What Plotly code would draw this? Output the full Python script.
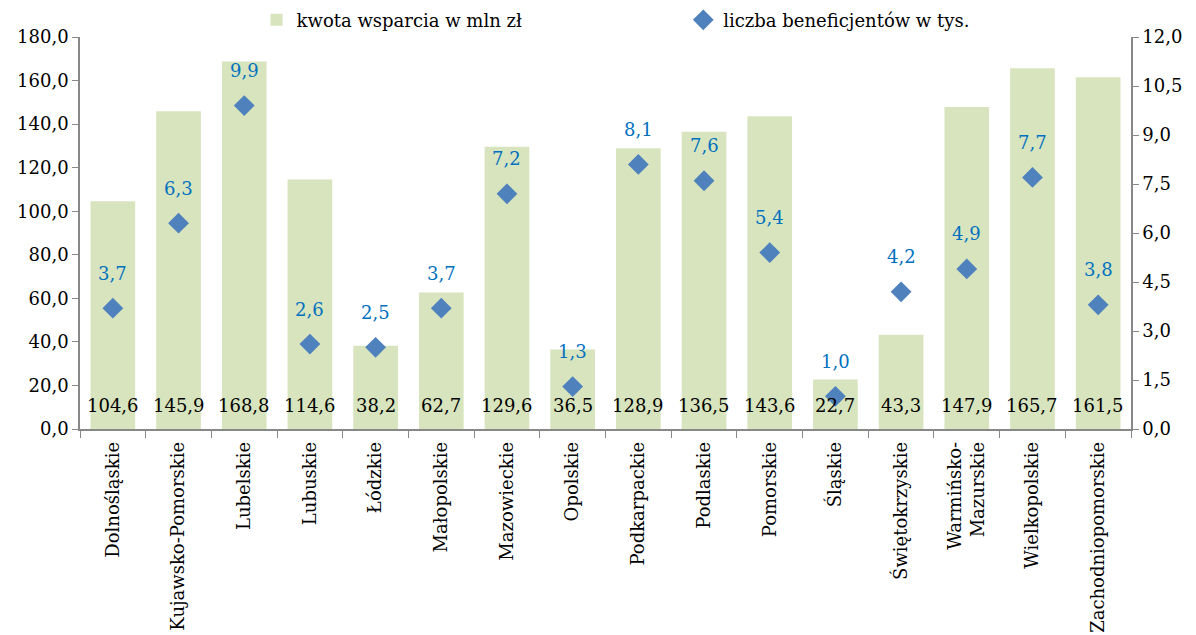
import plotly.graph_objects as go

categories = ["Dolnośląskie", "Kujawsko-Pomorskie", "Lubelskie", "Lubuskie", "Łódzkie",
              "Małopolskie", "Mazowieckie", "Opolskie", "Podkarpackie", "Podlaskie",
              "Pomorskie", "Śląskie", "Świętokrzyskie", "Warmińsko-<br>Mazurskie",
              "Wielkopolskie", "Zachodniopomorskie"]
kwota = [104.6, 145.9, 168.8, 114.6, 38.2, 62.7, 129.6, 36.5, 128.9, 136.5, 143.6, 22.7,
         43.3, 147.9, 165.7, 161.5]
beneficjenci = [3.7, 6.3, 9.9, 2.6, 2.5, 3.7, 7.2, 1.3, 8.1, 7.6, 5.4, 1.0, 4.2, 4.9, 7.7, 3.8]

FONT = "DejaVu Serif"
fmt = lambda v: f"{v:.1f}".replace(".", ",")

fig = go.Figure()
fig.add_trace(go.Bar(x=categories, y=kwota, name="kwota wsparcia w mln zł",
                     marker=dict(color="#D7E4BD", line=dict(width=0)), yaxis="y",
                     legend="legend"))
fig.add_trace(go.Scatter(x=categories, y=beneficjenci, name="liczba beneficjentów w tys.",
                         mode="markers", marker=dict(symbol="diamond", size=16, color="#4F81BD"),
                         yaxis="y2", cliponaxis=False, legend="legend2"))

for c, v in zip(categories, kwota):
    fig.add_annotation(x=c, y=0, yref="y", text=fmt(v), showarrow=False, yanchor="middle",
                       yshift=24, font=dict(family=FONT, size=18, color="black"))
for c, v in zip(categories, beneficjenci):
    fig.add_annotation(x=c, y=v, yref="y2", text=fmt(v), showarrow=False, yshift=35,
                       font=dict(family=FONT, size=18, color="#0070C0"))

axis_col = "#888888"
leg_common = dict(y=1.043, yanchor="middle", xanchor="left", font=dict(size=18),
                  bgcolor="rgba(0,0,0,0)", orientation="h")
fig.update_layout(
    width=1188, height=627,
    margin=dict(l=72, r=65, t=29, b=206, autoexpand=False),
    paper_bgcolor="white", plot_bgcolor="white",
    font=dict(family=FONT, size=18, color="black"),
    bargap=0.32,
    separators=", ",
    showlegend=True,
    legend=dict(x=0.168, **leg_common),
    legend2=dict(x=0.574, **leg_common),
    xaxis=dict(type="category", range=[-0.5, len(categories) - 0.5], tickangle=-90,
               showline=True, linecolor=axis_col, linewidth=1.5,
               ticks="outside", tickson="boundaries", ticklen=7, tickcolor=axis_col,
               ticklabelstandoff=4,
               showgrid=False, tickfont=dict(size=18), automargin=False),
    yaxis=dict(range=[0, 180], dtick=20, tickformat=".1f", showline=True, linecolor=axis_col,
               linewidth=1.5, ticks="outside", ticklen=6, tickcolor=axis_col, showgrid=False,
               zeroline=False, tickfont=dict(size=18), automargin=False),
    yaxis2=dict(range=[0, 12], dtick=1.5, tickformat=".1f", overlaying="y", side="right",
                showline=True, linecolor=axis_col, linewidth=1.5, ticks="outside", ticklen=6,
                tickcolor=axis_col, showgrid=False, zeroline=False, tickfont=dict(size=18),
                automargin=False),
)

fig.write_html("out.html")
